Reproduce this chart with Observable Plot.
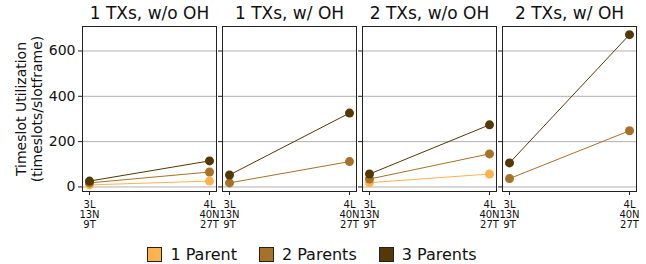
<!DOCTYPE html>
<html><head><meta charset="utf-8">
<script src="https://cdn.jsdelivr.net/npm/d3@7"></script>
<script src="https://cdn.jsdelivr.net/npm/@observablehq/plot@0.6"></script>
<style>
body{margin:0;background:#fff;font-family:"DejaVu Sans",sans-serif;}
#legend{display:flex;justify-content:center;height:31px;align-items:center;margin-left:-22px;margin-top:6px;}
.it{display:flex;align-items:center;font-size:16px;color:#111;margin:0 11px;}
.sw{width:15px;height:15px;border:1px solid #222;margin-right:8px;box-sizing:border-box;}
</style></head>
<body><div id="chart"></div><div id="legend"></div>
<script>
const panels = ["1 TXs, w/o OH","1 TXs, w/ OH","2 TXs, w/o OH","2 TXs, w/ OH"];
const configs = ["3L\n13N\n9T","4L\n40N\n27T"];
const series = ["1 Parent","2 Parents","3 Parents"];
const colors = ["#ffb24d","#a87128","#543805"];
// values per panel: [series][config]
const p1 = {"1 Parent":[9,26],"2 Parents":[18,66],"3 Parents":[26,115]};
const p2 = {"2 Parents":[18,112],"3 Parents":[53,326]};
const p3 = {"1 Parent":[19,57],"2 Parents":[35,146],"3 Parents":[57,274]};
const p4 = {"2 Parents":[37,248],"3 Parents":[106,672]};
const panelValues = [p1,p2,p3,p4];
const yTicks = [0,200,400,600];

const data = [];
panelValues.forEach((pv,i)=>{
  for (const s of series) {
    if (!pv[s]) continue;
    pv[s].forEach((v,j)=>data.push({panel:panels[i], config:configs[j], series:s, value:v}));
  }
});

const chart = Plot.plot({
  width:646, height:233,
  marginLeft:80, marginRight:9, marginTop:26, marginBottom:42,
  style:{fontFamily:"DejaVu Sans, sans-serif", background:"#fff", color:"#111"},
  fx:{domain:panels, paddingInner:0.043, paddingOuter:0, label:null, axis:null},
  x:{type:"point", domain:configs, padding:0.054, label:null},
  y:{domain:[-20,708], label:null},
  color:{domain:series, range:colors},
  marks:[
    Plot.gridY(yTicks,{stroke:"#b0b0b0", strokeOpacity:1, strokeWidth:1}),
    Plot.axisFx({anchor:"top", tickSize:0, fontSize:17, label:null, tickPadding:8}),
    Plot.axisY(yTicks,{facetAnchor:null, anchor:"left", tickSize:4, tickFormat:()=>"", label:null, stroke:"#222"}),
    Plot.axisY(yTicks,{facetAnchor:"left", anchor:"left", tickSize:0, tickPadding:7, fontSize:14, label:null, tickFormat:d=>String(d)}),
    Plot.axisX({tickSize:4, tickPadding:5, fontSize:10, label:null, lineHeight:1.0, stroke:"#222"}),
    Plot.line(data,{fx:"panel", x:"config", y:"value", z:"series", stroke:"series", strokeWidth:1}),
    Plot.dot(data,{fx:"panel", x:"config", y:"value", fill:"series", r:4.5}),
    Plot.frame({stroke:"#222", strokeWidth:1}),
    Plot.text(["Timeslot Utilization\n(timeslots/slotframe)"],{frameAnchor:"left", facetAnchor:"left", textAnchor:"middle", dx:-54, rotate:-90, fontSize:14, lineHeight:1.15})
  ]
});
document.getElementById("chart").appendChild(chart);
const lg = document.getElementById("legend");
series.forEach((s,i)=>{
  const d=document.createElement("div");d.className="it";
  d.innerHTML=`<div class="sw" style="background:${colors[i]}"></div><span>${s}</span>`;
  lg.appendChild(d);
});
</script></body></html>
